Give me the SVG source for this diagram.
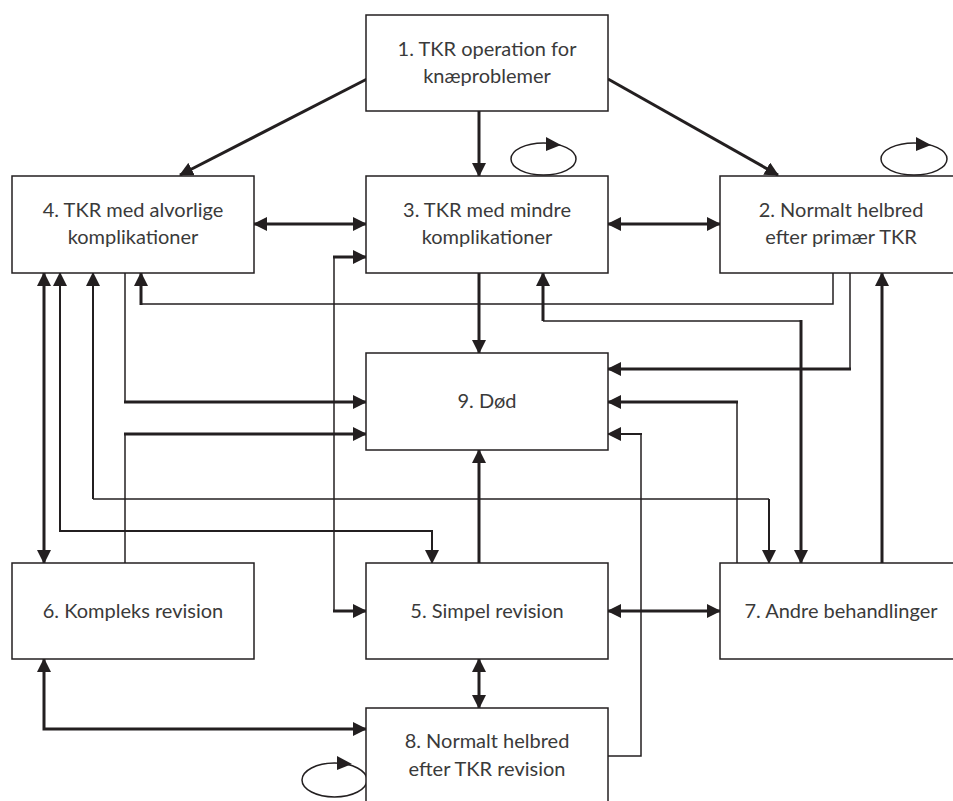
<svg xmlns="http://www.w3.org/2000/svg" width="953" height="801" viewBox="0 0 953 801">
<style>
.box{fill:#fff;stroke:#231f20;stroke-width:1.5}
.lbl{font-family:Lato,"Open Sans","DejaVu Sans",sans-serif;font-size:20px;fill:#3a3a3a;text-anchor:middle}
.c{fill:none;stroke:#231f20;stroke-linejoin:miter}
.thick{stroke-width:3}
.med{stroke-width:2}
.thin{stroke-width:1.5}
.ah{fill:#231f20}
.e{marker-end:url(#arr)}
.s{marker-start:url(#arr)}
</style>
<defs>
<marker id="arr" viewBox="0 0 14 14" markerWidth="14" markerHeight="14" refX="13" refY="7" orient="auto-start-reverse" markerUnits="userSpaceOnUse">
<path d="M0,0 L14,7 L0,14 z" fill="#231f20"/>
</marker>
</defs>
<rect width="953" height="801" fill="#fff"/>

<g id="connectors">
<path class="c thick e" d="M367,79 L180,175"/>
<path class="c thick e" d="M479,111 V176"/>
<path class="c thick e" d="M608,79 L778,175"/>
<path class="c thick s e" d="M254,224 H366"/>
<path class="c thick s e" d="M608,224 H720"/>
<path class="c thick e" d="M479,273 V353"/>
<path class="c thick e" d="M479,563 V450"/>
<path class="c thick s e" d="M479,659 V708"/>
<path class="c thick s e" d="M608,611 H720"/>
<path class="c thick e" d="M882,563 V273"/>
<path class="c thick s e" d="M44,659 V729 H366"/>
<path class="c thick s e" d="M44,273 V563"/>
<path class="c med s e" d="M60,273 V531 H432 V563"/>
<g><path class="c med s" d="M93,273 V499"/><path class="c thin" d="M93,499 H769"/><path class="c med e" d="M769,499 V563"/></g>
<g><path class="c thin" d="M125,273 V402"/><path class="c thick e" d="M124,402 H366"/></g>
<g><path class="c thin" d="M125,563 V434"/><path class="c thick e" d="M124,434 H366"/></g>
<g><path class="c thin" d="M833,273 V304 H141"/><path class="c thick e" d="M141,305 V273"/></g>
<g><path class="c thick s" d="M543,273 V321"/><path class="c thin" d="M543,321 H801"/><path class="c thick e" d="M801,320 V563"/></g>
<g><path class="c thin" d="M850,273 V369"/><path class="c thick e" d="M851,369 H608"/></g>
<g><path class="c thin" d="M737,563 V402"/><path class="c thick e" d="M738,402 H608"/></g>
<g><path class="c thin" d="M608,756 H641 V434"/><path class="c med e" d="M642,434 H608"/></g>
<g><path class="c thick s" d="M366,257 H333"/><path class="c thin" d="M334,257 V611"/><path class="c thick e" d="M333,611 H366"/></g>
<g><ellipse class="c thin" cx="543.5" cy="159" rx="32.5" ry="16"/><polygon class="ah" points="546,137 561,145 546,151"/></g>
<g><ellipse class="c thin" cx="914" cy="159" rx="33" ry="16"/><polygon class="ah" points="916,137 931,145 916,151"/></g>
<g><ellipse class="c thin" cx="334.5" cy="780" rx="32.5" ry="17"/><polygon class="ah" points="337,756 352,764 337,770"/></g>
</g>

<g id="n1"><rect class="box" x="366" y="15" width="242" height="96"/><text class="lbl" x="487" y="56">1. TKR operation for</text><text class="lbl" x="487" y="83">knæproblemer</text></g>
<g id="n4"><rect class="box" x="12" y="176" width="242" height="97"/><text class="lbl" x="133" y="217">4. TKR med alvorlige</text><text class="lbl" x="133" y="244">komplikationer</text></g>
<g id="n3"><rect class="box" x="366" y="176" width="242" height="97"/><text class="lbl" x="487" y="217">3. TKR med mindre</text><text class="lbl" x="487" y="244">komplikationer</text></g>
<g id="n2"><rect class="box" x="720" y="176" width="242" height="97"/><text class="lbl" x="841" y="217">2. Normalt helbred</text><text class="lbl" x="841" y="244">efter primær TKR</text></g>
<g id="n9"><rect class="box" x="366" y="353" width="242" height="97"/><text class="lbl" x="487" y="408">9. Død</text></g>
<g id="n6"><rect class="box" x="12" y="563" width="242" height="96"/><text class="lbl" x="133" y="618">6. Kompleks revision</text></g>
<g id="n5"><rect class="box" x="366" y="563" width="242" height="96"/><text class="lbl" x="487" y="618">5. Simpel revision</text></g>
<g id="n7"><rect class="box" x="720" y="563" width="242" height="96"/><text class="lbl" x="841" y="618">7. Andre behandlinger</text></g>
<g id="n8"><rect class="box" x="366" y="708" width="242" height="100"/><text class="lbl" x="487" y="748">8. Normalt helbred</text><text class="lbl" x="487" y="776">efter TKR revision</text></g>
</svg>
